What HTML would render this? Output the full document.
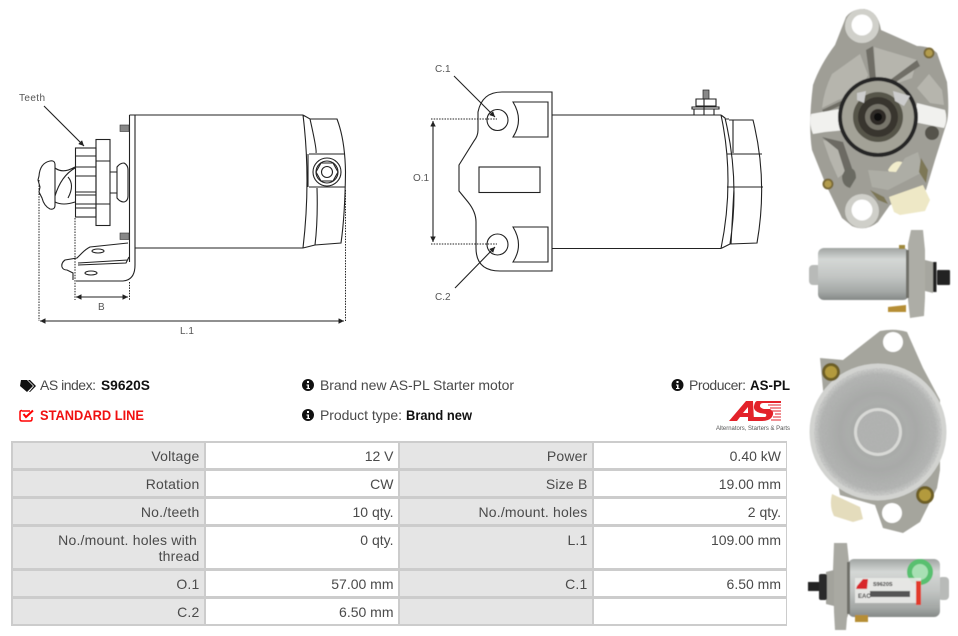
<!DOCTYPE html>
<html><head><meta charset="utf-8"><style>
html,body{margin:0;padding:0;background:#fff;width:958px;height:636px;overflow:hidden}
svg{display:block}
text{font-family:"Liberation Sans",sans-serif}
.l{fill:none;stroke:#222;stroke-width:1.1}
.d{fill:none;stroke:#222;stroke-width:1;stroke-dasharray:1.5 1.2}
.lb{font-size:10px;fill:#555}
.t{font-size:14px;fill:#4a4a4a;text-anchor:end}
.g{letter-spacing:.2px}
.h{font-size:14px;fill:#4a4a4a}
.b{font-size:14px;font-weight:bold;fill:#111}
</style></head><body>
<svg width="958" height="636" viewBox="0 0 958 636" xmlns="http://www.w3.org/2000/svg">
<defs>
<marker id="a" markerWidth="6" markerHeight="6" refX="5" refY="2.5" orient="auto-start-reverse"><path d="M0 0L5 2.5L0 5z" fill="#222"/></marker>
<linearGradient id="cy" x1="0" y1="0" x2="0" y2="1"><stop offset="0" stop-color="#a0a4a2"/><stop offset=".22" stop-color="#d4d7d5"/><stop offset=".55" stop-color="#c2c5c3"/><stop offset=".85" stop-color="#a2a6a4"/><stop offset="1" stop-color="#858987"/></linearGradient>
<radialGradient id="dk"><stop offset="0" stop-color="#b8bab8"/><stop offset=".6" stop-color="#a8aaa8"/><stop offset=".9" stop-color="#b4b6b4"/><stop offset="1" stop-color="#d0d1cf"/></radialGradient>
<filter id="s"><feGaussianBlur stdDeviation=".6"/></filter>
<filter id="n" x="0" y="0" width="100%" height="100%"><feTurbulence type="fractalNoise" baseFrequency=".7" numOctaves="2" seed="3"/><feColorMatrix values="0 0 0 0 .4 0 0 0 0 .4 0 0 0 0 .4 0 0 0 1.1 -.35"/><feComposite in2="SourceGraphic" operator="in"/><feMerge><feMergeNode in="SourceGraphic"/><feMergeNode/></feMerge></filter>
</defs>

<!-- Left drawing -->
<g>
<text x="19" y="101" class="lb" textLength="26">Teeth</text>
<line x1="44" y1="106" x2="84" y2="146" class="l" stroke-width=".8" marker-end="url(#a)"/>
<path class="l" d="M135 115H303M135 248H303M129.500 115H135M129.500 115V262M135 115V265Q135 280 123 281H76M303 115Q311 180 303 248M303 115L310 119H337Q345 140 345.500 172Q345 215 341 243L315 245L303 248M310 119Q317 150 316 153M317 188Q318 220 315 245M309 154H345M309 187H345M308 154V187"/>
<circle cx="327" cy="172" r="14" class="l"/><circle cx="327" cy="172" r="11" class="l"/>
<path class="l" d="M321 163H333L338 172L333 181H321L316 172z"/><circle cx="327" cy="172" r="5.500" class="l"/>
<rect x="120" y="125" width="9" height="6.500" fill="#888" stroke="#333" stroke-width=".6"/>
<rect x="120" y="233" width="9" height="6.500" fill="#888" stroke="#333" stroke-width=".6"/>
<!-- pinion -->
<rect x="96" y="139.500" width="14" height="86" fill="#fff" class="l"/>
<path class="l" d="M96 161H110M96 204H110"/>
<rect x="75.500" y="148" width="20.500" height="69" fill="#fff" class="l"/>
<path class="l" d="M76 156H96M76 167H96M76 176H96M76 192H96M76 195H96M76 204H96M76 208H96"/>
<path class="l" d="M110 172H117V193H110M117 167Q120 163 124 163Q128 165 128 170V196Q128 201 124 202Q120 202 117 198z"/>
<path class="l" d="M55 168Q63 174 75 167M55 202Q63 206 75 202M55 196Q61 176 75 168M68 198Q75 185 68 177"/>
<path class="l" d="M39 176Q40 163 50 161Q55 160 55 165V205Q55 210 50 209Q44 206 42 198L39 192L40 187L38 180z"/>
<!-- bracket -->
<path class="l" d="M128 243L90 247Q86 249 82 253L77 258L65 260Q61 263 62 267Q63 270 67 270L73 273V280M78 263L128 260M78 265L126 263L129 257"/>
<ellipse cx="98" cy="251" rx="6" ry="2" class="l"/><ellipse cx="91" cy="273" rx="6" ry="2" class="l"/>
<!-- dimensions -->
<path class="d" d="M75 218V300M129.500 282V300M39 180V321M345.500 190V321"/>
<line x1="76" y1="297" x2="128" y2="297" class="l" marker-start="url(#a)" marker-end="url(#a)"/>
<line x1="40" y1="321" x2="344" y2="321" class="l" marker-start="url(#a)" marker-end="url(#a)"/>
<text x="98" y="310" class="lb">B</text>
<text x="180" y="334" class="lb">L.1</text>
</g>

<!-- Middle drawing -->
<g>
<text x="435" y="72" class="lb">C.1</text>
<text x="435" y="300" class="lb">C.2</text>
<text x="413" y="181" class="lb">O.1</text>
<path class="l" d="M552 92H502Q482 92 478 112V130Q478 136 474 141L459 165V191L468 202Q476 212 476 222V248Q476 271 500 271H552z"/>
<circle cx="497.500" cy="120" r="10.500" class="l"/><circle cx="497.500" cy="244.500" r="10.500" class="l"/>
<rect x="479" y="167" width="61" height="25.500" class="l"/>
<path class="l" d="M513 102H548V137H513Q524 120 513 102zM513 227H548V262H513Q524 245 513 227z"/>
<path class="l" d="M552 115H721M552 248.500H721"/>
<path class="l" d="M721 115Q735 180 721 248.500M721 115L725 118Q740 180 730 244L721 248.500M729 120H753Q768 180 757 243L730 244M725 119H729M727 154H762M727 187H763M733 120L733 153M734 188L731 244"/>
<rect x="703" y="90" width="6" height="9" fill="#888" stroke="#222" stroke-width=".7"/>
<path class="l" d="M696 99H716V106H696zM692 107H719V109H692zM694 109V115M704 99V115M714 109V115"/>
<path class="d" d="M431 119H497M431 244H497"/>
<line x1="433" y1="121" x2="433" y2="242" class="l" marker-start="url(#a)" marker-end="url(#a)"/>
<line x1="454" y1="76" x2="495" y2="117" class="l" marker-end="url(#a)"/>
<line x1="455" y1="288" x2="495" y2="247" class="l" marker-end="url(#a)"/>
</g>

<!-- Photo 1 -->
<g filter="url(#s)">
<path fill="#9f9e96" d="M846 17Q852 9 864 9Q878 11 881 30L917 46Q930 46 937 53L947 82Q950 115 946 125L935 160L926 190L890 205L878 222Q866 232 852 226L842 218L826 185L812 150Q808 125 813 85Q820 65 835 45z"/>
<path fill="#b6b5ad" d="M874 47L917 60L912 78L884 88L876 80zM832 74L860 54L868 75L860 92L838 100L822 108Q824 90 832 74zM929 74L942 90L944 105L930 103L917 88z"/>
<path fill="#6f6e66" d="M873 46L876 80L870 80L866 50zM917 60L920 66L884 90L882 86zM822 110L860 92L862 96L824 113z"/>
<path fill="#b6b5ad" d="M823 140L840 144L848 170L838 178L830 160z"/>
<path fill="#6c6b63" d="M822 137L843 142L852 168L846 175L838 150z"/>
<circle cx="862" cy="26" r="17" fill="#d0d0ca"/><circle cx="862" cy="25" r="10.500" fill="#fff"/>
<circle cx="862" cy="211" r="17" fill="#cfcfc9"/><circle cx="862" cy="210" r="10.500" fill="#fff"/>
<circle cx="929" cy="53" r="5.500" fill="#7a6a38"/><circle cx="929" cy="53" r="3.500" fill="#b39c4d"/>
<circle cx="828" cy="184" r="5.500" fill="#7a6a38"/><circle cx="828" cy="184" r="3.500" fill="#b39c4d"/>
<path fill="#6b6a62" d="M846 168Q856 166 856 178L850 188Q842 186 842 176z"/>
<path fill="#f1f1ee" d="M811 114L845 108L846 130L825 132L813 134Q809 125 811 114zM917 103L945 110Q948 120 944 128L914 122z"/>
<circle cx="878" cy="117" r="40" fill="#262626"/>
<circle cx="878" cy="117" r="36" fill="#a3a297"/>
<circle cx="878" cy="117" r="25" fill="#57554a"/>
<circle cx="878" cy="117" r="20" fill="#38362f"/>
<circle cx="878" cy="117" r="13" fill="#77746a"/>
<circle cx="878" cy="117" r="8" fill="#2e2c27"/>
<circle cx="878" cy="117" r="4" fill="#0c0c0a"/>
<path fill="#ccc" d="M857 93L866 91L864 103L857 100zM893 91L910 96L904 106L895 101z"/>
<circle cx="932" cy="133" r="7" fill="#55534b"/>
<path fill="#eee8c6" d="M889 197L923 185L930 200L925 211L900 215L894 212z"/>
<path fill="#f2edcc" d="M888 170Q895 158 904 163L906 172L892 176z"/>
<path fill="#adada5" d="M868 170L896 172L905 158L918 152L923 172L888 190L872 187z"/>
<path fill="#7d7756" d="M921 158L928 170L926 183L919 172zM870 190L884 197L888 204L878 200z"/>
</g>

<!-- Photo 2 -->
<g filter="url(#s)">
<rect x="809" y="265" width="12" height="20" rx="4" fill="#b8bab8"/>
<rect x="818" y="248" width="91" height="52" rx="6" fill="url(#cy)"/>
<path fill="#adada6" d="M908 244L911 230H923L925 250L925 298L924 316L910 318L908 300z"/>
<path fill="#6f6f69" d="M906 250H909V298H906z"/>
<path fill="#a6a69f" d="M925 260L933 262V293L925 291z"/>
<rect x="933" y="262" width="3.500" height="30" fill="#222"/>
<rect x="937" y="270" width="13" height="15" rx="1" fill="#222"/>
<path fill="#b68e36" d="M888 307L906 305V312H888z"/>
<path fill="#a08a3e" d="M899 245H905V249H899z"/>
</g>

<!-- Photo 3 -->
<g filter="url(#s)">
<path fill="#a5a59d" d="M820 358L843 360L880 331Q895 328 907 332L923 368L940 400V470L937 488L920 522L903 533L883 528L875 505L840 495L825 410z"/>
<circle cx="893" cy="342" r="10" fill="#fff"/><circle cx="892" cy="513" r="10" fill="#fff"/>
<circle cx="878" cy="432" r="68.500" fill="#d2d3d0"/>
<g filter="url(#n)"><circle cx="878" cy="432" r="64" fill="url(#dk)"/></g>
<circle cx="878" cy="432" r="28" fill="#a9aba9"/>
<circle cx="878" cy="432" r="24" fill="#d8d9d6"/>
<g filter="url(#n)"><circle cx="878" cy="432" r="21" fill="#b2b4b2"/></g>
<circle cx="831" cy="372" r="9" fill="#6d5f26"/><circle cx="831" cy="372" r="6" fill="#b39a3e"/>
<circle cx="925" cy="495" r="9" fill="#6d5f26"/><circle cx="925" cy="495" r="6" fill="#b39a3e"/>
<path fill="#e4dcbc" d="M832 494L860 507L863 519L853 522L834 516Q829 506 832 494z"/>
</g>

<!-- Photo 4 -->
<g filter="url(#s)">
<rect x="938" y="577" width="11" height="23" rx="4" fill="#b8bab8"/>
<rect x="848" y="559" width="92" height="58" rx="6" fill="url(#cy)"/>
<path fill="#a9a9a2" d="M834 543H847L849 562L849 612L847 618L846 630H835L834 612L833 570z"/>
<path fill="#6f6f69" d="M847 562H850V614H847z"/>
<path fill="#a3a39c" d="M826 572L834 570V606L826 604z"/>
<rect x="808" y="582" width="12" height="9" fill="#222"/><rect x="819" y="574" width="8" height="26" rx="2" fill="#2a2a2a"/>
<path fill="#b68e36" d="M855 615H868V622H855z"/>
<circle cx="920" cy="572" r="13" fill="#58c070"/><circle cx="920" cy="572" r="8" fill="#a8e0b4"/>
<rect x="855" y="578" width="66" height="25" fill="#e9e9e7" opacity=".9"/>
<rect x="916" y="581" width="5" height="24" fill="#e23a2c"/>
<path fill="#d8262a" d="M857 586L863 579H868L867 589H856z"/>
<text x="873" y="586" font-size="5.500" font-weight="bold" fill="#222">S9620S</text>
<rect x="870" y="591" width="40" height="6" fill="#555"/>
<text x="858" y="598" font-size="6" font-weight="bold" fill="#333">EAC</text>
</g>

<!-- Info -->
<g>
<path fill="#111" d="M21 380H27L33 386L27 392L20 386z"/><path fill="#111" d="M28 380H30L36 386L30 392H29L34 386z"/>
<text x="40" y="390" class="h" textLength="56">AS index:</text><text x="101" y="390" class="b" textLength="49" lengthAdjust="spacingAndGlyphs">S9620S</text>
<path d="M22 411H30M32 417V419Q32 421 30 421H22Q20 421 20 419V412Q20 410.500 22 410.500" fill="none" stroke="#f00" stroke-width="1.500"/>
<path d="M23.500 414L26 417L33 410.500" fill="none" stroke="#f00" stroke-width="2"/>
<text x="40" y="420" font-size="14" font-weight="bold" fill="#f01010" textLength="104" lengthAdjust="spacingAndGlyphs">STANDARD LINE</text>
<g><circle cx="308" cy="385" r="6" fill="#111"/><rect x="307" y="381" width="2" height="2" fill="#fff"/><path d="M306.500 384.500H309V388H310V389H306.500V388H307.500V385.500H306.500z" fill="#fff"/></g>
<g transform="translate(0,30)"><circle cx="308" cy="385" r="6" fill="#111"/><rect x="307" y="381" width="2" height="2" fill="#fff"/><path d="M306.500 384.500H309V388H310V389H306.500V388H307.500V385.500H306.500z" fill="#fff"/></g>
<g transform="translate(369.500,0)"><circle cx="308" cy="385" r="6" fill="#111"/><rect x="307" y="381" width="2" height="2" fill="#fff"/><path d="M306.500 384.500H309V388H310V389H306.500V388H307.500V385.500H306.500z" fill="#fff"/></g>
<text x="320" y="390" class="h" textLength="194">Brand new AS-PL Starter motor</text>
<text x="320" y="420" class="h" textLength="82">Product type:</text><text x="406" y="420" class="b" textLength="66" lengthAdjust="spacingAndGlyphs">Brand new</text>
<text x="689" y="390" class="h" textLength="57">Producer:</text><text x="750" y="390" class="b" textLength="40" lengthAdjust="spacingAndGlyphs">AS-PL</text>
<path fill="#e3222a" d="M729 421L746 401H753L754 421H748V417H740L737 421zM743 413H748V407z"/>
<path fill="#e3222a" d="M757 401H781V403H763Q760 403 760 406Q760 408 764 409H770Q775 412 772 417Q769 421 762 421H749L751 417H764Q767 417 766 414L760 413Q753 411 754 406Q755 401 757 401z"/>
<path stroke="#e3222a" stroke-width="1" d="M768 405H781M770 408H781M772 411H781M775 414H781M773 417H781M771 420H781"/>
<text x="716" y="430" font-size="6.800" fill="#555" textLength="74" lengthAdjust="spacingAndGlyphs">Alternators, Starters &amp; Parts</text>
</g>

<!-- Table -->
<g>
<rect x="11" y="441" width="776" height="185" fill="#ccc"/>
<g fill="#e5e5e5">
<rect x="13" y="443" width="191" height="25"/><rect x="13" y="471" width="191" height="25"/><rect x="13" y="499" width="191" height="25"/><rect x="13" y="527" width="191" height="41"/><rect x="13" y="571" width="191" height="25"/><rect x="13" y="599" width="191" height="25"/>
<rect x="400" y="443" width="192" height="25"/><rect x="400" y="471" width="192" height="25"/><rect x="400" y="499" width="192" height="25"/><rect x="400" y="527" width="192" height="41"/><rect x="400" y="571" width="192" height="25"/><rect x="400" y="599" width="192" height="25"/>
</g>
<g fill="#fff">
<rect x="206" y="443" width="192" height="25"/><rect x="206" y="471" width="192" height="25"/><rect x="206" y="499" width="192" height="25"/><rect x="206" y="527" width="192" height="41"/><rect x="206" y="571" width="192" height="25"/><rect x="206" y="599" width="192" height="25"/>
<rect x="594" y="443" width="192" height="25"/><rect x="594" y="471" width="192" height="25"/><rect x="594" y="499" width="192" height="25"/><rect x="594" y="527" width="192" height="41"/><rect x="594" y="571" width="192" height="25"/><rect x="594" y="599" width="192" height="25"/>
</g>
<text class="t g" x="199.500" y="461">Voltage</text><text class="t" x="393.500" y="461">12 V</text><text class="t g" x="587.500" y="461">Power</text><text class="t" x="781" y="461">0.40 kW</text>
<text class="t g" x="199.500" y="489">Rotation</text><text class="t" x="393.500" y="489">CW</text><text class="t g" x="587.500" y="489">Size B</text><text class="t" x="781" y="489">19.00 mm</text>
<text class="t g" x="199.500" y="517">No./teeth</text><text class="t" x="393.500" y="517">10 qty.</text><text class="t g" x="587.500" y="517">No./mount. holes</text><text class="t" x="781" y="517">2 qty.</text>
<text class="t g" x="197" y="545">No./mount. holes with</text><text class="t g" x="199.500" y="561">thread</text><text class="t" x="393.500" y="545">0 qty.</text><text class="t g" x="587.500" y="545">L.1</text><text class="t" x="781" y="545">109.00 mm</text>
<text class="t g" x="199.500" y="589">O.1</text><text class="t" x="393.500" y="589">57.00 mm</text><text class="t g" x="587.500" y="589">C.1</text><text class="t" x="781" y="589">6.50 mm</text>
<text class="t g" x="199.500" y="617">C.2</text><text class="t" x="393.500" y="617">6.50 mm</text>
</g>
</svg>
</body></html>
